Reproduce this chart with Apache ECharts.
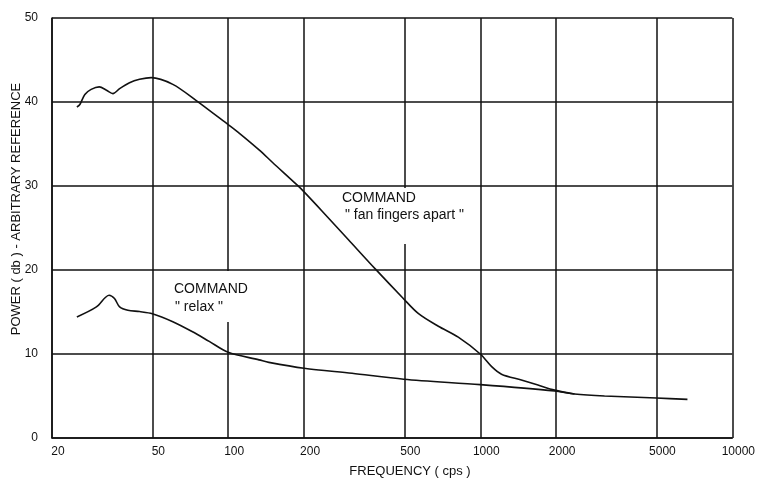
<!DOCTYPE html>
<html>
<head>
<meta charset="utf-8">
<script src="https://cdn.jsdelivr.net/npm/echarts@6/dist/echarts.min.js"></script>
<style>
  html, body { margin: 0; padding: 0; background: #fff; }
  #chart { width: 758px; height: 482px; }
</style>
</head>
<body>
<div id="chart"></div>
<script>
// Frequency tick values (cps) on the logarithmic axis
const freqTicks = [20, 50, 100, 200, 500, 1000, 2000, 5000, 10000];
const powerTicks = [0, 10, 20, 30, 40, 50];

// Power spectrum for the command "fan fingers apart": [frequency, power db]
const fanFingersFreq = [25.1, 25.8, 27.0, 28.6, 30.8, 32.9, 34.9, 37.1, 40.6, 44.5, 49.5, 60.3, 74.5,
  100, 110.5, 132.6, 150, 188, 200, 236, 300, 384, 492, 569, 682, 818, 1000,
  1110, 1214, 1456, 1694, 1972, 2366];
const fanFingersPower = [39.4, 39.7, 40.9, 41.5, 41.8, 41.4, 41.0, 41.6, 42.3, 42.7, 42.9, 42.1, 40.2,
  37.3, 36.3, 34.3, 32.8, 30.1, 29.3, 27.0, 23.6, 20.1, 16.7, 14.8, 13.3, 12.0, 10.0,
  8.5, 7.6, 6.9, 6.3, 5.7, 5.24];

// Power spectrum for the command "relax"
const relaxFreq = [25.1, 30.0, 33.7, 35.4, 37.1, 40.0, 44.5, 50, 60.3, 72.2, 84.1, 100,
  132.6, 145, 200, 310, 497, 1000, 1972, 2366, 3112, 5000, 6637];
const relaxPower = [14.4, 15.6, 17.0, 16.6, 15.6, 15.2, 15.05, 14.8, 13.85, 12.65, 11.5, 10.2,
  9.3, 9.0, 8.3, 7.7, 7.0, 6.35, 5.6, 5.24, 5.0, 4.76, 4.6];

const zip = (xs, ys) => xs.map((x, i) => [x, ys[i]]);

const ink = '#111';
const font = '"Liberation Sans", Arial, sans-serif';

const chart = echarts.init(document.getElementById('chart'), null, { renderer: 'canvas' });

chart.setOption({
  backgroundColor: '#fff',
  animation: false,
  grid: { left: 52, right: 23, top: 18, bottom: 44, containLabel: false },
  xAxis: {
    type: 'log',
    logBase: 10,
    min: freqTicks[0],
    max: freqTicks[freqTicks.length - 1],
    axisLine: { show: true, lineStyle: { color: ink, width: 1.5 } },
    axisTick: { show: false, customValues: freqTicks },
    axisLabel: {
      customValues: freqTicks,
      color: ink,
      fontFamily: font,
      fontSize: 12,
      margin: 8,
      padding: [0, 0, 0, 12],
      formatter: v => String(Math.round(v))
    },
    splitLine: { show: true, lineStyle: { color: ink, width: 1.5 } },
    minorSplitLine: { show: false }
  },
  yAxis: {
    type: 'value',
    min: powerTicks[0],
    max: powerTicks[powerTicks.length - 1],
    interval: 10,
    axisLine: { show: true, lineStyle: { color: ink, width: 1.5 } },
    axisTick: { show: false },
    axisLabel: { color: ink, fontFamily: font, fontSize: 12, margin: 14 },
    splitLine: { show: true, lineStyle: { color: ink, width: 1.5 } }
  },
  series: [
    {
      name: 'fan fingers apart',
      type: 'line',
      data: zip(fanFingersFreq, fanFingersPower),
      smooth: 0.3,
      showSymbol: false,
      lineStyle: { color: ink, width: 1.6 },
      z: 3
    },
    {
      name: 'relax',
      type: 'line',
      data: zip(relaxFreq, relaxPower),
      smooth: 0.3,
      showSymbol: false,
      lineStyle: { color: ink, width: 1.6 },
      z: 3
    }
  ],
  graphic: [
    // white panels behind the two captions
    { type: 'rect', z: 1, shape: { x: 336, y: 188, width: 134, height: 56 }, style: { fill: '#fff' } },
    { type: 'rect', z: 1, shape: { x: 168, y: 271, width: 85, height: 51 }, style: { fill: '#fff' } },
    { type: 'text', z: 5, x: 342, y: 198, style: { text: 'COMMAND', font: '14px ' + font, fill: ink, textAlign: 'left', textVerticalAlign: 'middle' } },
    { type: 'text', z: 5, x: 345, y: 215, style: { text: '" fan fingers apart "', font: '14px ' + font, fill: ink, textAlign: 'left', textVerticalAlign: 'middle' } },
    { type: 'text', z: 5, x: 174, y: 289, style: { text: 'COMMAND', font: '14px ' + font, fill: ink, textAlign: 'left', textVerticalAlign: 'middle' } },
    { type: 'text', z: 5, x: 175, y: 307, style: { text: '" relax "', font: '14px ' + font, fill: ink, textAlign: 'left', textVerticalAlign: 'middle' } },
    // axis titles
    { type: 'text', z: 5, x: 410, y: 471, style: { text: 'FREQUENCY ( cps )', font: '13px ' + font, fill: ink, textAlign: 'center', textVerticalAlign: 'middle' } },
    { type: 'text', z: 5, x: 16, y: 209, rotation: Math.PI / 2, style: { text: 'POWER ( db ) - ARBITRARY REFERENCE', font: '13px ' + font, fill: ink, textAlign: 'center', textVerticalAlign: 'middle' } }
  ]
});
</script>
</body>
</html>
